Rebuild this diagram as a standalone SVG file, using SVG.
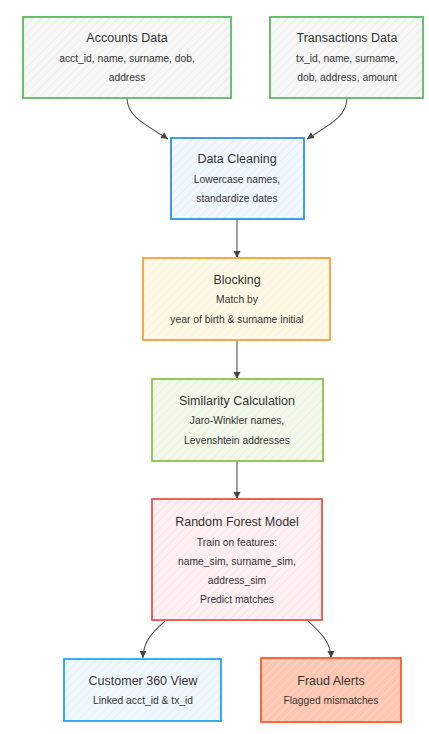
<svg xmlns="http://www.w3.org/2000/svg" width="429" height="734" viewBox="0 0 429 734">
<defs>
<style>
.t{font-family:"Liberation Sans",Arial,sans-serif;font-size:12.5px;fill:#333;text-anchor:middle}
.b{font-family:"Liberation Sans",Arial,sans-serif;font-size:10.3px;fill:#333;text-anchor:middle}
.e{fill:none;stroke:#555;stroke-width:1.1}
rect{stroke-width:1.8}
</style>
<pattern id="hg" width="6" height="6" patternUnits="userSpaceOnUse" patternTransform="rotate(45)"><rect width="6" height="6" fill="#f7f7f7" stroke="none"/><line x1="0" y1="0" x2="0" y2="6" stroke="#e6e6e6" stroke-width="1"/></pattern>
<pattern id="hb" width="6" height="6" patternUnits="userSpaceOnUse" patternTransform="rotate(45)"><rect width="6" height="6" fill="#f0f7fe" stroke="none"/><line x1="0" y1="0" x2="0" y2="6" stroke="#d8eafc" stroke-width="1"/></pattern>
<pattern id="ho" width="6" height="6" patternUnits="userSpaceOnUse" patternTransform="rotate(45)"><rect width="6" height="6" fill="#fff8e6" stroke="none"/><line x1="0" y1="0" x2="0" y2="6" stroke="#fdefcc" stroke-width="1"/></pattern>
<pattern id="hl" width="6" height="6" patternUnits="userSpaceOnUse" patternTransform="rotate(45)"><rect width="6" height="6" fill="#f2f9ec" stroke="none"/><line x1="0" y1="0" x2="0" y2="6" stroke="#ddefcf" stroke-width="1"/></pattern>
<pattern id="hr" width="6" height="6" patternUnits="userSpaceOnUse" patternTransform="rotate(45)"><rect width="6" height="6" fill="#fff0f2" stroke="none"/><line x1="0" y1="0" x2="0" y2="6" stroke="#fcd8dd" stroke-width="1"/></pattern>
<pattern id="hc" width="6" height="6" patternUnits="userSpaceOnUse" patternTransform="rotate(45)"><rect width="6" height="6" fill="#f0f8fe" stroke="none"/><line x1="0" y1="0" x2="0" y2="6" stroke="#d6ecfa" stroke-width="1"/></pattern>
<pattern id="hf" width="6" height="6" patternUnits="userSpaceOnUse" patternTransform="rotate(45)"><rect width="6" height="6" fill="#ffc7b2" stroke="none"/><line x1="0" y1="0" x2="0" y2="6" stroke="#ffd9cb" stroke-width="1.5"/></pattern>
<marker id="a" markerWidth="8" markerHeight="8" refX="7" refY="4" orient="auto" markerUnits="userSpaceOnUse"><path d="M0,0.5 L7,4 L0,7.5 z" fill="#444"/></marker>
</defs>
<g id="connectors">
<path class="e" d="M127,98 C127,118 150,127 168,139" marker-end="url(#a)"/>
<path class="e" d="M347,98 C347,118 325,127 307,139" marker-end="url(#a)"/>
<path class="e" d="M237,219 L237,258" marker-end="url(#a)"/>
<path class="e" d="M237,340 L237,379" marker-end="url(#a)"/>
<path class="e" d="M237,461 L237,499" marker-end="url(#a)"/>
<path class="e" d="M165,621 C155,630 143,640 143,658" marker-end="url(#a)"/>
<path class="e" d="M307,620 C320,632 331,642 331,658" marker-end="url(#a)"/>
</g>
<g id="accounts">
<rect x="23" y="17" width="208" height="81" fill="url(#hg)" stroke="#5cb85c"/>
<text class="t" x="127" y="42">Accounts Data</text>
<text class="b" x="127" y="62">acct_id, name, surname, dob,</text>
<text class="b" x="127" y="81">address</text>
</g>
<g id="transactions">
<rect x="270" y="17" width="153" height="81" fill="url(#hg)" stroke="#5cb85c"/>
<text class="t" x="347" y="42">Transactions Data</text>
<text class="b" x="347" y="62">tx_id, name, surname,</text>
<text class="b" x="347" y="81">dob, address, amount</text>
</g>
<g id="cleaning">
<rect x="171" y="138" width="133" height="81" fill="url(#hb)" stroke="#2e8fe8"/>
<text class="t" x="237" y="163">Data Cleaning</text>
<text class="b" x="237" y="183">Lowercase names,</text>
<text class="b" x="237" y="202">standardize dates</text>
</g>
<g id="blocking">
<rect x="143" y="258" width="187" height="82" fill="url(#ho)" stroke="#f9a030"/>
<text class="t" x="237" y="284">Blocking</text>
<text class="b" x="237" y="303">Match by</text>
<text class="b" x="237" y="323">year of birth &amp; surname initial</text>
</g>
<g id="similarity">
<rect x="152" y="379" width="171" height="82" fill="url(#hl)" stroke="#8bc34a"/>
<text class="t" x="237" y="405">Similarity Calculation</text>
<text class="b" x="237" y="424">Jaro-Winkler names,</text>
<text class="b" x="237" y="444">Levenshtein addresses</text>
</g>
<g id="forest">
<rect x="152" y="499" width="170" height="121" fill="url(#hr)" stroke="#f0504a"/>
<text class="t" x="237" y="526">Random Forest Model</text>
<text class="b" x="237" y="546">Train on features:</text>
<text class="b" x="237" y="565">name_sim, surname_sim,</text>
<text class="b" x="237" y="584">address_sim</text>
<text class="b" x="237" y="603">Predict matches</text>
</g>
<g id="customer360">
<rect x="64" y="659" width="157" height="62" fill="url(#hc)" stroke="#1ea6ee"/>
<text class="t" x="143" y="685">Customer 360 View</text>
<text class="b" x="143" y="704">Linked acct_id &amp; tx_id</text>
</g>
<g id="fraud">
<rect x="261" y="658" width="140" height="64" fill="url(#hf)" stroke="#fc5a2a"/>
<text class="t" x="331" y="685">Fraud Alerts</text>
<text class="b" x="331" y="704">Flagged mismatches</text>
</g>
</svg>
